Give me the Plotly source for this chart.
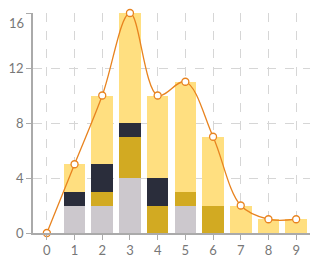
import plotly.graph_objects as go

x = [0, 1, 2, 3, 4, 5, 6, 7, 8, 9]
grey = [0, 2, 2, 4, 0, 2, 0, 0, 0, 0]
gold = [0, 0, 1, 3, 2, 1, 2, 0, 0, 0]
dark = [0, 1, 2, 1, 2, 0, 0, 0, 0, 0]
light = [0, 2, 5, 8, 6, 8, 5, 2, 1, 1]
total = [0, 5, 10, 16, 10, 11, 7, 2, 1, 1]
yticks = [0, 4, 8, 12, 16]

fig = go.Figure()
for vals, col in [(grey, "#CCC8CD"), (gold, "#D2AA22"), (dark, "#2A2D3B"), (light, "#FFDF80")]:
    fig.add_trace(go.Bar(x=x, y=vals, marker=dict(color=col, line=dict(width=0)), showlegend=False))

fig.add_trace(go.Scatter(
    x=x, y=total, mode="lines+markers",
    line=dict(color="#E8831F", width=1.3, shape="spline", smoothing=1.0),
    marker=dict(size=7, color="white", line=dict(color="#E8831F", width=1.3)),
    showlegend=False, cliponaxis=False,
))

fig.update_layout(
    barmode="stack", bargap=0.22,
    width=330, height=261,
    margin=dict(l=33, r=20, t=13, b=28),
    paper_bgcolor="white", plot_bgcolor="white",
    font=dict(family="Lato", size=13, color="#777777"),
)
fig.update_xaxes(
    range=[-0.5, 9.5], tickmode="array", tickvals=x, ticktext=[str(v) for v in x],
    showgrid=True, gridcolor="#D6D6D6", griddash="dash", gridwidth=1,
    showline=True, linecolor="#AAAAAA", linewidth=1.5, automargin=False,
    ticks="outside", ticklen=5, tickcolor="#AAAAAA", zeroline=False,
)
fig.update_yaxes(
    range=[0, 16], tickmode="array", tickvals=yticks,
    ticktext=[str(v) if v != yticks[-1] else "" for v in yticks],
    showgrid=True, gridcolor="#D6D6D6", griddash="dash", gridwidth=1,
    showline=True, linecolor="#AAAAAA", linewidth=1.5, automargin=False,
    ticks="outside", ticklen=5, tickcolor="#AAAAAA", zeroline=False,
)
fig.add_annotation(
    text=str(yticks[-1]), xref="paper", yref="y", x=0, y=yticks[-1],
    xanchor="right", yanchor="middle", xshift=-7, yshift=-10, showarrow=False,
    font=dict(family="Lato", size=13, color="#777777"),
)
fig.write_html("out.html")
